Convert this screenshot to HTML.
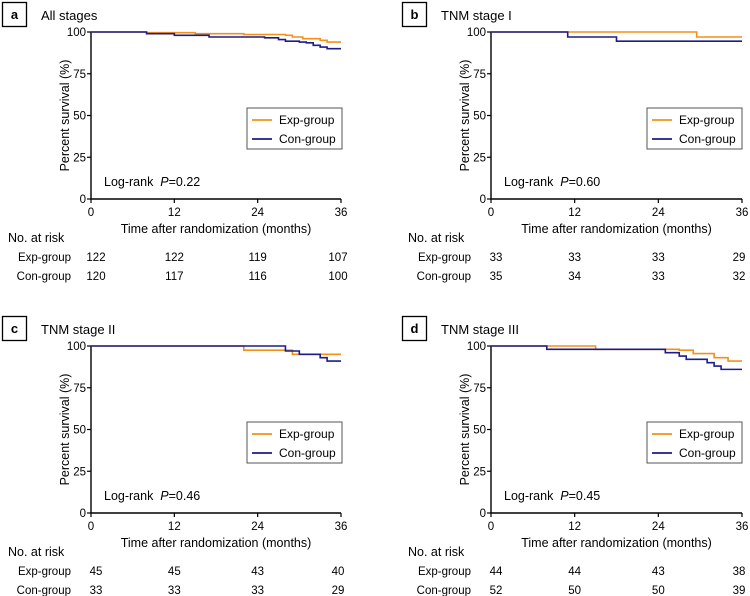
<!DOCTYPE html>
<html><head><meta charset="utf-8"><style>
body{margin:0;background:#fff}
svg{font-family:"Liberation Sans",Arial,sans-serif;display:block}
</style></head><body>
<svg id="fig" width="750" height="596" viewBox="0 0 750 596"></svg>
<script>
const panelLetters=["a","b","c","d"];
const panelTitles=["All stages","TNM stage I","TNM stage II","TNM stage III"];
const pValues=["0.22","0.60","0.46","0.45"];
const xTicks=[0,12,24,36];
const yTicks=[0,25,50,75,100];
// step data: [time, survival]
const expA=[[0,100],[8,99.6],[15,99],[22,98.5],[28,98],[29,97],[30.5,96],[33,95],[34,94],[36,94]];
const conA=[[0,100],[8,99],[12,98],[17,97],[25,96.5],[27,95.5],[28,94.5],[30,94],[31,93.5],[32,92],[33,91],[34,90],[36,90]];
const expB=[[0,100],[29.5,97],[36,97]];
const conB=[[0,100],[11,97],[18,94.5],[36,94.5]];
const expC=[[0,100],[22,97.5],[29,95],[36,95]];
const conC=[[0,100],[28,97],[30,95],[33,93],[34,91],[36,91]];
const expD=[[0,100],[15,98],[27,97.5],[29,95.5],[32,93],[34,91],[36,91]];
const conD=[[0,100],[8,98],[25,96],[27,94],[28,92],[31,90],[32,88],[33,86],[36,86]];
const expSeries=[expA,expB,expC,expD];
const conSeries=[conA,conB,conC,conD];
const expRisk=[[122,122,119,107],[33,33,33,29],[45,45,43,40],[44,44,43,38]];
const conRisk=[[120,117,116,100],[35,34,33,32],[33,33,33,29],[52,50,50,39]];

const NS="http://www.w3.org/2000/svg";
const svg=document.getElementById('fig');
function mk(tag,attrs,parent,text){const e=document.createElementNS(NS,tag);for(const k in attrs)e.setAttribute(k,attrs[k]);if(text!==undefined)e.textContent=text;(parent||svg).appendChild(e);return e;}
const offsets=[[0,0],[400,0],[0,314],[400,314]];
for(let p=0;p<4;p++){
  const [ox,oy]=offsets[p];
  const g=mk('g',{transform:`translate(${ox},${oy})`});
  
  
  const x0=91,x1=p%2?342:341,yTop=32,yBot=199;
  const sx=t=>x0+(x1-x0)*t/36, sy=v=>yBot-(yBot-yTop)*v/100;
  let e=mk('rect',{x:2.5,y:2.5,width:24,height:24,fill:'#fff',stroke:'#000','stroke-width':1.3},g);
  
  e=mk('text',{x:14.5,y:19,'text-anchor':'middle','font-size':13,'font-weight':'bold'},g,panelLetters[p]);
  
  e=mk('text',{x:41,y:20,'font-size':13},g,panelTitles[p]);
  
  e=mk('path',{d:`M${x0},${yTop}V${yBot}H${x1}`,fill:'none',stroke:'#000','stroke-width':1.4},g);
  
  yTicks.forEach(v=>{mk('line',{x1:x0-4,x2:x0,y1:sy(v),y2:sy(v),stroke:'#000','stroke-width':1.2},g);
    const t=mk('text',{x:x0-5,y:sy(v)+4,'text-anchor':'end','font-size':11.5},g,v);
    });
  xTicks.forEach(v=>{mk('line',{x1:sx(v),x2:sx(v),y1:yBot,y2:yBot+4,stroke:'#000','stroke-width':1.2},g);
    const t=mk('text',{x:sx(v),y:yBot+17,'text-anchor':'middle','font-size':11.5},g,v);
    });
  e=mk('text',{x:(x0+x1)/2,y:233,'text-anchor':'middle','font-size':12.5},g,'Time after randomization (months)');
  
  e=mk('text',{x:0,y:0,transform:`translate(69,${(yTop+yBot)/2}) rotate(-90)`,'text-anchor':'middle','font-size':12.5},g,'Percent survival (%)');
  
  const curve=(data,col,name)=>{let d=`M${sx(data[0][0])},${sy(data[0][1])}`;
    for(let i=1;i<data.length;i++){d+=`H${sx(data[i][0])}V${sy(data[i][1])}`;}
    const c=mk('path',{d:d,fill:'none',stroke:col,'stroke-width':1.6},g);
    };
  curve(expSeries[p],'#f39019','exp-group-curve');
  curve(conSeries[p],'#1c1c8c','con-group-curve');
  const lx=247;
  e=mk('rect',{x:lx,y:108,width:95,height:41,fill:'#fff',stroke:'#555','stroke-width':1},g);
  
  mk('line',{x1:lx+5,x2:lx+25,y1:120,y2:120,stroke:'#f39019','stroke-width':1.8},g);
  e=mk('text',{x:lx+32,y:124,'font-size':12},g,'Exp-group');
  
  mk('line',{x1:lx+5,x2:lx+25,y1:139,y2:139,stroke:'#1c1c8c','stroke-width':1.8},g);
  e=mk('text',{x:lx+32,y:143,'font-size':12},g,'Con-group');
  
  e=mk('text',{x:104,y:186,'font-size':12.5},g);
  
  mk('tspan',{},e,'Log-rank\u00a0\u00a0');mk('tspan',{'font-style':'italic'},e,'P');mk('tspan',{},e,'='+pValues[p]);
  e=mk('text',{x:8,y:242,'font-size':12.5},g,'No. at risk');
  
  e=mk('text',{x:71,y:261,'text-anchor':'end','font-size':11.5},g,'Exp-group');
  
  e=mk('text',{x:71,y:280,'text-anchor':'end','font-size':11.5},g,'Con-group');
  
  xTicks.forEach((v,i)=>{const xx=i===0?sx(v)+5:(i===3?sx(v)-3:sx(v));
    let t=mk('text',{x:xx,y:261,'text-anchor':'middle','font-size':11.5},g,expRisk[p][i]);
    
    t=mk('text',{x:xx,y:280,'text-anchor':'middle','font-size':11.5},g,conRisk[p][i]);
    });
}
</script>
</body></html>
